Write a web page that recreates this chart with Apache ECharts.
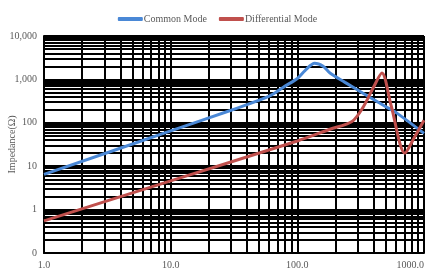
<!DOCTYPE html>
<html>
<head>
<meta charset="utf-8">
<script src="https://cdn.jsdelivr.net/npm/echarts@6/dist/echarts.min.js"></script>
<style>
  html, body { margin: 0; padding: 0; background: #fff; }
  #chart { width: 435px; height: 275px; }
</style>
</head>
<body>
<div id="chart"></div>
<script>
// frequency (MHz) / impedance (ohm)
const cmFreq = [1, 10, 30, 60, 80, 100, 115, 137, 160, 181, 238, 330, 500, 611, 1000];
const cmImp = [6.5, 65, 195, 410, 700, 1050, 1600, 2350, 2000, 1400, 855, 480, 234, 167, 57];
const dmFreq = [1, 10, 100, 181, 270, 330, 400, 465, 550, 707, 832, 1000];
const dmImp = [0.55, 4.6, 38, 71, 107, 227, 665, 1400, 250, 20, 44, 115];

const xTicks = [1, 10, 100, 1000];
const yTicks = [0.1, 1, 10, 100, 1000, 10000];

// minor grid lines at 2..9 of every decade
const minorOf = (ticks) => {
    const out = [];
    for (let i = 0; i < ticks.length - 1; i++) {
        for (let k = 2; k <= 9; k++) out.push(ticks[i] * k);
    }
    return out;
};
const xMinor = minorOf(xTicks);
const yMinor = minorOf(yTicks);

const font = "'Liberation Serif', 'DejaVu Serif', serif";
const gridLine = { color: '#000', width: 2, type: 'solid' };

const chart = echarts.init(document.getElementById('chart'));
const option = {
    backgroundColor: '#fff',
    animation: false,
    textStyle: { fontFamily: font },
    legend: {
        data: ['Common Mode', 'Differential Mode'],
        top: 9,
        left: 'center',
        icon: 'roundRect',
        itemWidth: 25,
        itemHeight: 4,
        itemGap: 12,
        textStyle: { fontFamily: font, fontSize: 10, color: '#595959', padding: [0, 0, 0, -4] }
    },
    grid: { left: 44, right: 11, top: 36, bottom: 22, outerBoundsMode: 'none', containLabel: false },
    xAxis: {
        type: 'log',
        logBase: 10,
        min: xTicks[0],
        max: xTicks[xTicks.length - 1],
        name: 'Freq(MHz)',
        nameLocation: 'middle',
        nameGap: 10,
        nameTextStyle: { fontFamily: font, fontSize: 10, color: '#595959' },
        axisLine: { lineStyle: { color: '#000', width: 2 } },
        axisTick: { show: false },
        axisLabel: {
            fontFamily: font, fontSize: 10, color: '#595959', margin: 7,
            alignMaxLabel: 'right',
            formatter: (v) => v.toFixed(1)
        },
        splitLine: { show: true, lineStyle: gridLine }
    },
    yAxis: {
        type: 'log',
        logBase: 10,
        min: yTicks[0],
        max: yTicks[yTicks.length - 1],
        name: 'Impedance(Ω)',
        nameLocation: 'middle',
        nameGap: 27,
        nameMoveOverlap: false,
        nameTextStyle: { fontFamily: font, fontSize: 10, color: '#595959' },
        axisLine: { show: true, lineStyle: { color: '#000', width: 2 } },
        axisTick: { show: false },
        axisLabel: {
            fontFamily: font, fontSize: 10, color: '#595959', margin: 7,
            formatter: (v) => v < 1 ? '0' : Math.round(v).toLocaleString('en-US')
        },
        splitLine: { show: true, lineStyle: gridLine }
    },
    series: [
        {
            name: 'grid',
            type: 'line',
            data: [[1, 0.1]],
            symbol: 'none',
            lineStyle: { opacity: 0 },
            silent: true,
            z: 1,
            markLine: {
                silent: true,
                z: 1,
                symbol: 'none',
                label: { show: false },
                lineStyle: gridLine,
                animation: false,
                data: xMinor.map(v => ({ xAxis: v })).concat(yMinor.map(v => ({ yAxis: v })))
            }
        },
        {
            name: 'Common Mode',
            type: 'line',
            data: cmFreq.map((f, i) => [f, cmImp[i]]),
            smooth: 0.3,
            symbol: 'none',
            z: 3,
            lineStyle: { color: '#4a88d6', width: 3 },
            itemStyle: { color: '#4a88d6' }
        },
        {
            name: 'Differential Mode',
            type: 'line',
            data: dmFreq.map((f, i) => [f, dmImp[i]]),
            smooth: 0.3,
            symbol: 'none',
            z: 3,
            lineStyle: { color: '#c0504d', width: 3 },
            itemStyle: { color: '#c0504d' }
        }
    ]
};
chart.setOption(option);
</script>
</body>
</html>
